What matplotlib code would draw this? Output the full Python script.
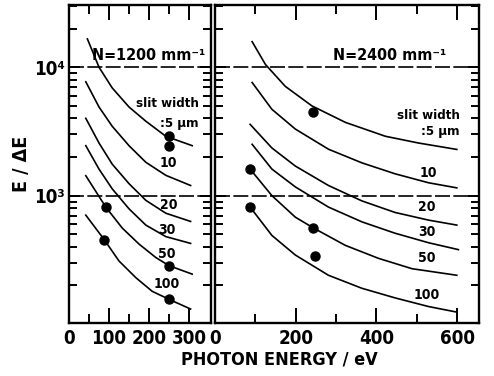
import matplotlib
matplotlib.use("Agg")
import matplotlib.pyplot as plt
from matplotlib.ticker import LogLocator, FixedLocator, NullFormatter, FixedFormatter

plt.rcParams['font.family'] = ['DejaVu Sans']
plt.rcParams['font.stretch'] = 'condensed'
plt.rcParams['font.weight'] = 'bold'
plt.rcParams['axes.labelweight'] = 'bold'

slit_widths = ['5', '10', '20', '30', '50', '100']

# N = 1200 mm^-1 grating: photon energy (eV) and resolving power per slit width
e_1200 = [
    [46, 75, 108, 150, 192, 242, 308],
    [42, 75, 108, 150, 192, 242, 304],
    [42, 75, 108, 150, 192, 242, 304],
    [42, 75, 108, 150, 192, 242, 304],
    [42, 92, 133, 175, 217, 250, 308],
    [42, 88, 125, 167, 208, 250, 304],
]
r_1200 = [
    [16600, 10000, 6900, 4900, 3800, 2900, 2450],
    [7700, 4900, 3470, 2450, 1820, 1440, 1200],
    [4000, 2570, 1760, 1240, 920, 730, 630],
    [2450, 1610, 1130, 790, 590, 480, 425],
    [1430, 815, 560, 420, 330, 285, 245],
    [705, 455, 310, 230, 180, 156, 131],
]
meas_e_1200 = [92, 88, 250, 250, 250, 250]
meas_r_1200 = [815, 455, 2900, 2440, 283, 156]

# N = 2400 mm^-1 grating
e_2400 = [
    [92, 125, 174, 240, 323, 422, 504, 599],
    [92, 141, 199, 281, 364, 446, 529, 599],
    [87, 141, 199, 281, 364, 446, 529, 599],
    [92, 141, 199, 281, 364, 446, 529, 603],
    [87, 141, 199, 244, 323, 405, 488, 599],
    [87, 141, 199, 281, 364, 446, 529, 599],
]
r_2400 = [
    [15800, 10500, 7100, 5000, 3720, 2900, 2570, 2290],
    [7600, 4700, 3300, 2300, 1800, 1480, 1260, 1150],
    [3590, 2350, 1700, 1200, 910, 740, 645, 590],
    [2510, 1610, 1170, 815, 625, 510, 430, 380],
    [1610, 1000, 680, 560, 410, 325, 270, 240],
    [815, 490, 345, 240, 190, 160, 137, 124],
]
meas_e_2400 = [87, 87, 244, 244, 248]
meas_r_2400 = [1610, 815, 4450, 560, 340]

y_ticks = [1e2, 1e3, 1e4]
y_ticklabels = ['10\u00b2', '10\u00b3', '10\u2074']

# label positions (eV, E/dE) for the slit-width numbers
lab_1200 = [(248, 1780), (249, 850), (245, 540), (245, 350), (245, 205)]
lab_2400 = [(528, 1510), (525, 810), (525, 525), (525, 325), (525, 170)]

fig = plt.figure(figsize=(4.94, 3.76), dpi=100)
axL = fig.add_axes([69/494, 53/376, 142/494, 318/376])
axR = fig.add_axes([215/494, 53/376, 264/494, 318/376])


def style(ax, xmax, major, minor):
    ax.set_yscale('log')
    ax.set_ylim(102, 30500)
    ax.set_xlim(0, xmax)
    ax.xaxis.set_major_locator(FixedLocator(major))
    ax.xaxis.set_minor_locator(FixedLocator(minor))
    ax.yaxis.set_major_locator(FixedLocator(y_ticks))
    ax.yaxis.set_major_formatter(FixedFormatter(y_ticklabels))
    ax.yaxis.set_minor_locator(LogLocator(base=10, subs=range(2, 10), numticks=20))
    ax.yaxis.set_minor_formatter(NullFormatter())
    ax.tick_params(which='both', direction='in', top=True, right=True,
                   width=1.4, labelsize=13.5)
    ax.tick_params(axis='x', which='major', length=11, pad=4)
    ax.tick_params(axis='x', which='minor', length=6.5)
    ax.tick_params(axis='y', which='major', length=8, pad=3)
    ax.tick_params(axis='y', which='minor', length=6)
    for s in ax.spines.values():
        s.set_linewidth(1.7)
    for lev in (1e3, 1e4):
        ax.axhline(lev, color='k', lw=1.2, ls=(0, (9, 2)), zorder=1)


style(axL, 355, [0, 100, 200, 300], [50, 150, 250])
style(axR, 654, [0, 200, 400, 600], [100, 300, 500])
axR.tick_params(axis='y', which='both', labelleft=False)

for ax, es, rs, me, mr in ((axL, e_1200, r_1200, meas_e_1200, meas_r_1200),
                           (axR, e_2400, r_2400, meas_e_2400, meas_r_2400)):
    for e, r in zip(es, rs):
        ax.plot(e, r, color='k', lw=1.2, zorder=2)
    ax.plot(me, mr, 'o', color='k', ms=6.5, zorder=3)

axL.text(198, 10700, 'N=1200 mm\u207b\u00b9', fontsize=11.5, ha='center', va='bottom')
axR.text(432, 10700, 'N=2400 mm\u207b\u00b9', fontsize=11.5, ha='center', va='bottom')

axL.text(325, 5190, 'slit width', fontsize=9.5, ha='right', va='center')
axL.text(325, 3640, ':5 \u00b5m', fontsize=9.5, ha='right', va='center')
axR.text(607, 4200, 'slit width', fontsize=9.5, ha='right', va='center')
axR.text(607, 3160, ':5 \u00b5m', fontsize=9.5, ha='right', va='center')

for ax, labs in ((axL, lab_1200), (axR, lab_2400)):
    for (x, y), w in zip(labs, slit_widths[1:]):
        ax.text(x, y, w, fontsize=10, ha='center', va='center')

axL.set_ylabel('E / \u0394E', fontsize=14, labelpad=2)
fig.text(279/494, 1 - 359/376, 'PHOTON ENERGY / eV', fontsize=13,
         ha='center', va='center')

fig.savefig('out.png', dpi=100)
